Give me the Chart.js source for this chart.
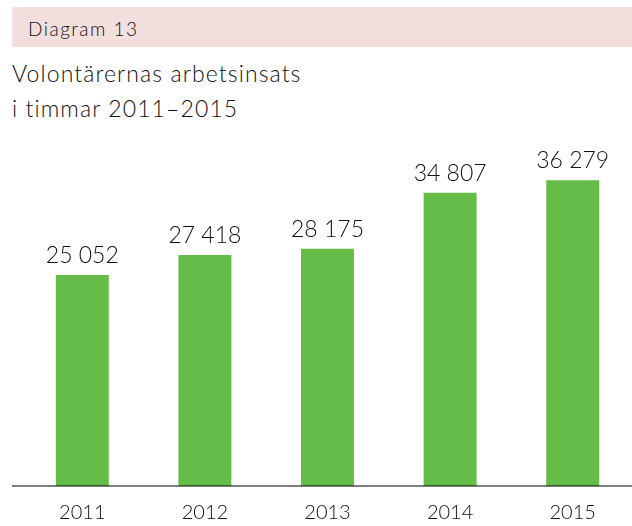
<!DOCTYPE html>
<html>
<head>
<meta charset="utf-8">
<script src="https://cdn.jsdelivr.net/npm/chart.js@4"></script>
<style>
  html, body { margin: 0; padding: 0; width: 632px; height: 526px; overflow: hidden; background: #fff; }
  #wrap { position: absolute; left: 0; top: 0; width: 632px; height: 526px; overflow: hidden; }
  #band { position: absolute; left: 12px; top: 7px; width: 620px; height: 40px; background: #f2dedd; }
  #tag { position: absolute; left: 28px; top: 20px; font: 300 19px/18px Lato, sans-serif; letter-spacing: 1.5px; color: #111; white-space: nowrap; }
  #title { position: absolute; left: 12px; top: 56px; font: 300 23px/35px Lato, sans-serif; letter-spacing: 1.1px; color: #111; white-space: nowrap; }
  #cv { position: absolute; left: 0; top: 0; }
</style>
</head>
<body>
<div id="wrap">
  <div id="band"></div>
  <div id="tag">Diagram 13</div>
  <div id="title">Volontärernas arbetsinsats<br>i timmar 2011–2015</div>
  <canvas id="cv" width="640" height="526" style="width:640px;height:526px"></canvas>
</div>
<script>
const categories = ["2011", "2012", "2013", "2014", "2015"];
const hours = [25052, 27418, 28175, 34807, 36279];

function fmt(v) {
  return String(v).replace(/\B(?=(\d{3})+(?!\d))/g, " ");
}

const valueLabels = {
  id: "valueLabels",
  afterDatasetsDraw(chart) {
    const ctx = chart.ctx;
    const meta = chart.getDatasetMeta(0);
    ctx.save();
    ctx.font = "300 23px Lato, sans-serif";
    ctx.fillStyle = "#111";
    ctx.textAlign = "center";
    ctx.textBaseline = "alphabetic";
    meta.data.forEach((bar, i) => {
      ctx.fillText(fmt(chart.data.datasets[0].data[i]), bar.x, bar.y - 12);
    });
    ctx.restore();
  }
};

const baseLine = {
  id: "baseLine",
  afterDatasetsDraw(chart) {
    const ctx = chart.ctx;
    const y = chart.scales.y.getPixelForValue(0);
    ctx.save();
    ctx.strokeStyle = "rgba(0,0,0,0.5)";
    ctx.lineWidth = 2;
    ctx.beginPath();
    ctx.moveTo(12, y);
    ctx.lineTo(632, y);
    ctx.stroke();
    ctx.restore();
  }
};

new Chart(document.getElementById("cv"), {
  type: "bar",
  data: {
    labels: categories,
    datasets: [{
      data: hours,
      backgroundColor: "#66bc48",
      borderWidth: 0,
      barPercentage: 0.432,
      categoryPercentage: 1
    }]
  },
  options: {
    responsive: false,
    animation: false,
    events: [],
    layout: { padding: { left: 21, right: 6, top: 149, bottom: 0 } },
    plugins: { legend: { display: false }, tooltip: { enabled: false }, title: { display: false } },
    scales: {
      x: {
        grid: { display: false, drawTicks: false },
        border: { display: false },
        ticks: { font: { family: "Lato, sans-serif", size: 20, weight: 300 }, color: "#111", padding: 15 },
        afterFit(scale) { scale.height = 40; }
      },
      y: {
        display: false,
        min: 0,
        max: 40000
      }
    }
  },
  plugins: [valueLabels, baseLine]
});
</script>
</body>
</html>
